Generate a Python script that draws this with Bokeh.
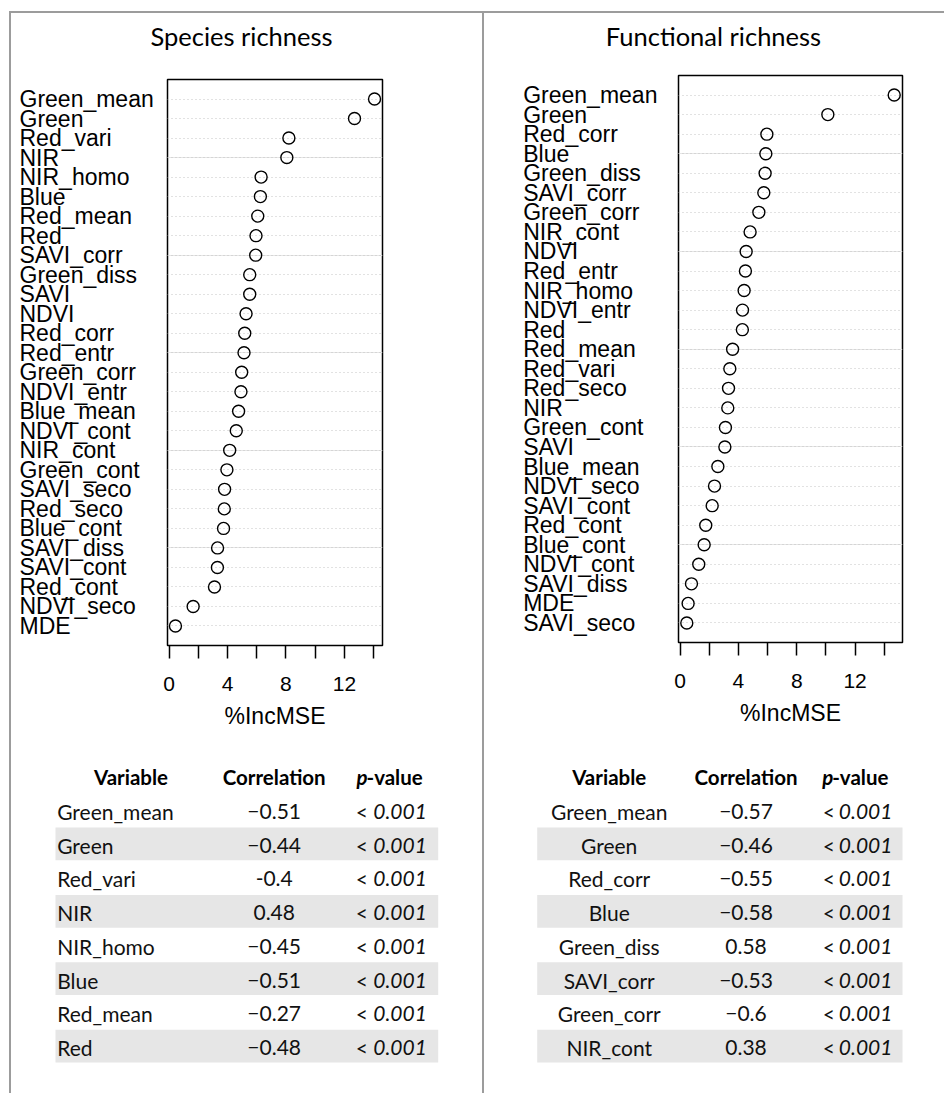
from bokeh.plotting import figure
from bokeh.models import Range1d, FixedTicker, Grid, Spacer
from bokeh.layouts import row, column
from bokeh.embed import file_html
from bokeh.resources import INLINE
from bokeh.core.properties import value

# ---------------- data ----------------
sr_title = "Species richness"
sr_vars = ["Green_mean", "Green", "Red_vari", "NIR", "NIR_homo", "Blue", "Red_mean",
           "Red", "SAVI_corr", "Green_diss", "SAVI", "NDVI", "Red_corr", "Red_entr",
           "Green_corr", "NDVI_entr", "Blue_mean", "NDVI_cont", "NIR_cont", "Green_cont",
           "SAVI_seco", "Red_seco", "Blue_cont", "SAVI_diss", "SAVI_cont", "Red_cont",
           "NDVI_seco", "MDE"]
sr_incmse = [14.06, 12.69, 8.20, 8.06, 6.30, 6.25, 6.07, 5.95, 5.93, 5.52, 5.52, 5.27,
             5.18, 5.13, 4.97, 4.92, 4.76, 4.60, 4.15, 3.96, 3.80, 3.78, 3.73, 3.32,
             3.31, 3.11, 1.65, 0.44]

fr_title = "Functional richness"
fr_vars = ["Green_mean", "Green", "Red_corr", "Blue", "Green_diss", "SAVI_corr",
           "Green_corr", "NIR_cont", "NDVI", "Red_entr", "NIR_homo", "NDVI_entr", "Red",
           "Red_mean", "Red_vari", "Red_seco", "NIR", "Green_cont", "SAVI", "Blue_mean",
           "NDVI_seco", "SAVI_cont", "Red_cont", "Blue_cont", "NDVI_cont", "SAVI_diss",
           "MDE", "SAVI_seco"]
fr_incmse = [14.68, 10.13, 5.95, 5.88, 5.83, 5.74, 5.40, 4.80, 4.53, 4.48, 4.39, 4.28,
             4.27, 3.60, 3.41, 3.32, 3.27, 3.11, 3.07, 2.59, 2.36, 2.20, 1.76, 1.65,
             1.28, 0.78, 0.55, 0.46]

x_ticks = [0, 2, 4, 6, 8, 10, 12, 14]
x_tick_labels = {0: "0", 2: "", 4: "4", 6: "", 8: "8", 10: "", 12: "12", 14: ""}
x_title = "%IncMSE"

tab_headers = ["Variable", "Correlation", "p-value"]
sr_tab_vars = ["Green_mean", "Green", "Red_vari", "NIR", "NIR_homo", "Blue", "Red_mean", "Red"]
sr_tab_corr = ["\u22120.51", "\u22120.44", "-0.4", "0.48", "\u22120.45", "\u22120.51", "\u22120.27", "\u22120.48"]
sr_tab_p = ["0.001"] * 8
fr_tab_vars = ["Green_mean", "Green", "Red_corr", "Blue", "Green_diss", "SAVI_corr", "Green_corr", "NIR_cont"]
fr_tab_corr = ["\u22120.57", "\u22120.46", "\u22120.55", "\u22120.58", "0.58", "\u22120.53", "\u22120.6", "0.38"]
fr_tab_p = ["0.001"] * 8

# ---------------- styles ----------------
LABEL_FONT = "Liberation Sans"
TAB_FONT = "Lato"
FRAME_GREY = "#9c9c9c"
BAND = "#e6e6e6"


def bare(width, height, xr, yr, **kw):
    p = figure(width=width, height=height, x_range=xr, y_range=yr,
               output_backend="svg", toolbar_location=None,
               x_axis_location=None, y_axis_location=None, **kw)
    p.frame_align = False
    p.outline_line_color = None
    p.grid.visible = False
    p.background_fill_color = "white"
    p.border_fill_color = "white"
    return p


def title_fig(title, width, cx):
    p = bare(width, 47, Range1d(0, width), Range1d(47, 0), min_border=0)
    p.text(x=[cx], y=[22], text=[title], text_align="center", text_baseline="middle",
           text_font=value(TAB_FONT), text_font_size="25.5px", text_color="black")
    return p


def dot_panel(names, vals, lab_w, lab_x, dot_w, mbl, mbr, mbt, mbb):
    n = len(names)
    ys = list(range(n, 0, -1))
    lo, hi = min(vals), max(vals)
    pad = 0.04 * (hi - lo)
    yr = Range1d(0, n + 1)
    h = 680
    # labels column (shares the row scale with the dot chart)
    lp = bare(lab_w, h, Range1d(0, lab_w), yr, min_border_left=0, min_border_right=0,
              min_border_top=mbt, min_border_bottom=mbb)
    lp.text(x=[lab_x] * n, y=ys, text=names, text_align="left", text_baseline="middle",
            text_font=value(LABEL_FONT), text_font_size="23px", text_color="black")
    # dot chart
    p = figure(width=dot_w, height=h, x_range=Range1d(lo - pad, hi + pad),
               y_range=yr, output_backend="svg", toolbar_location=None,
               x_axis_location="below", y_axis_location=None,
               min_border_left=mbl, min_border_right=mbr, min_border_top=mbt,
               min_border_bottom=mbb)
    p.frame_align = False
    p.outline_line_color = "black"
    p.outline_line_width = 1.5
    p.outline_line_alpha = 1.0
    p.background_fill_color = "white"
    p.border_fill_color = "white"
    p.xgrid.visible = False
    p.add_layout(Grid(dimension=1, ticker=FixedTicker(ticks=ys),
                      grid_line_color="#c4c4c4", grid_line_dash="1 3", grid_line_width=1))
    p.scatter(x=vals, y=ys, marker="circle", size=12, fill_color=None,
              line_color="black", line_width=1.4)
    ax = p.xaxis[0]
    ax.ticker = FixedTicker(ticks=x_ticks)
    ax.major_label_overrides = x_tick_labels
    ax.axis_line_color = None
    ax.major_tick_in = 0
    ax.major_tick_out = 13
    ax.major_tick_line_width = 1.5
    ax.major_tick_line_color = "black"
    ax.minor_tick_line_color = None
    ax.major_label_text_font = LABEL_FONT
    ax.major_label_text_font_size = "21px"
    ax.major_label_text_color = "black"
    ax.major_label_standoff = 18
    ax.axis_label = x_title
    ax.axis_label_text_font = LABEL_FONT
    ax.axis_label_text_font_size = "23px"
    ax.axis_label_text_font_style = "normal"
    ax.axis_label_text_color = "black"
    ax.axis_label_standoff = 9
    return row(lp, p)


def table_panel(names, corr, pvals, width, x0, var_x, var_align, corr_x, lt_x, p_x,
                band_x0, band_x1, head_var_x, head_p_x, height):
    n = len(names)
    rows = list(range(n))
    row_h = 33.71
    top = (740 - 811) / row_h
    bot = (740 + height - 811) / row_h
    p = bare(width, height, Range1d(x0, x0 + width), Range1d(bot, top), min_border=0)
    shaded = [r for r in rows if r % 2 == 1]
    p.rect(x=[(band_x0 + band_x1) / 2] * len(shaded), y=[r - 0.04 for r in shaded],
           width=band_x1 - band_x0, height=0.97, fill_color=BAND, line_color=None)
    fs = "21px"
    p.text(x=[var_x] * n, y=rows, text=names, text_align=var_align,
           text_baseline="middle", text_font=value(TAB_FONT), text_font_size=fs,
           text_color="#111111")
    p.text(x=[corr_x] * n, y=rows, text=corr, text_align="center",
           text_baseline="middle", text_font=value(TAB_FONT), text_font_size=fs,
           text_color="#111111")
    p.text(x=[lt_x] * n, y=rows, text=["<"] * n, text_align="center",
           text_baseline="middle", text_font=value(TAB_FONT), text_font_size=fs,
           text_color="#111111")
    p.text(x=[p_x] * n, y=rows, text=pvals, text_align="left",
           text_baseline="middle", text_font=value(TAB_FONT), text_font_size=fs,
           text_font_style="italic", text_color="#111111")
    hy = -1.02
    hfs = "20.5px"
    p.text(x=[head_var_x, corr_x], y=[hy, hy], text=tab_headers[:2], text_align="center",
           text_baseline="middle", text_font=value(TAB_FONT), text_font_size=hfs,
           text_font_style="bold", text_color="black")
    p.text(x=[head_p_x], y=[hy], text=[tab_headers[2][0]], text_align="left",
           text_baseline="middle", text_font=value(TAB_FONT), text_font_size=hfs,
           text_font_style="bold italic", text_color="black")
    p.text(x=[head_p_x + 10], y=[hy], text=[tab_headers[2][1:]], text_align="left",
           text_baseline="middle", text_font=value(TAB_FONT), text_font_size=hfs,
           text_font_style="bold", text_color="black")
    return p


# page px: left panel x 11..482 ; right panel x 484..944 ; body y 13..1093
TAB_H = 353
left_title = title_fig(sr_title, 471, 230)
right_title = title_fig(fr_title, 460, 229)
left_dot = dot_panel(sr_vars, sr_incmse, 149, 8, 322, 7, 100, 19, 95)
right_dot = dot_panel(fr_vars, fr_incmse, 186, 38.7, 274, 8, 42, 15, 98)
left_tab = table_panel(sr_tab_vars, sr_tab_corr, sr_tab_p, 471, 11, 56.7, "left", 273.7,
                       361.3, 372.7, 55, 437.7, 130.5, 356, TAB_H)
right_tab = table_panel(fr_tab_vars, fr_tab_corr, fr_tab_p, 460, 484, 608.7, "center", 745.5,
                        828.3, 838.3, 536.7, 902, 608.7, 821.7, TAB_H)


def line(w, h):
    return Spacer(width=w, height=h, styles={"background-color": FRAME_GREY})


BODY_H = 47 + 680 + TAB_H
top_line = row(Spacer(width=9, height=2), line(935, 2))
body = row(Spacer(width=9, height=BODY_H), line(2, BODY_H),
           column(left_title, left_dot, left_tab), line(2, BODY_H),
           column(right_title, right_dot, right_tab))
root = column(Spacer(width=944, height=11), top_line, body)

open("out.html", "w").write(file_html(root, INLINE))
